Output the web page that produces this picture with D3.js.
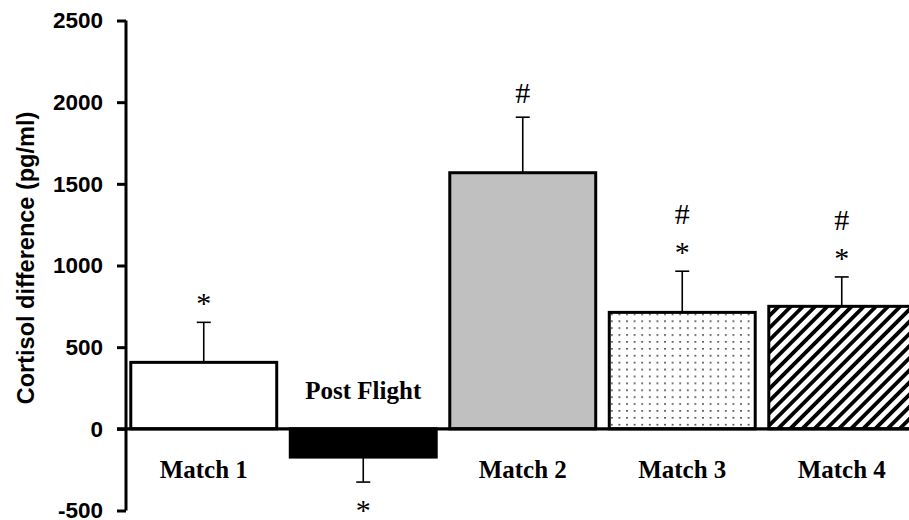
<!DOCTYPE html>
<html>
<head>
<meta charset="utf-8">
<script src="https://cdn.jsdelivr.net/npm/d3@7/dist/d3.min.js"></script>
<style>
  html, body { margin: 0; padding: 0; background: #fff; }
  svg { display: block; }
</style>
</head>
<body>
<svg id="chart" width="909" height="520"></svg>
<script>
// Cortisol difference per condition (pg/ml), mean and SEM
const categories = ["Match 1", "Post Flight", "Match 2", "Match 3", "Match 4"];
const means = [407, -173, 1568, 713, 750];
const errors = [245, 153, 340, 252, 180];
const marks = [["*"], ["*"], ["#"], ["#", "*"], ["#", "*"]];
const yTicks = [-500, 0, 500, 1000, 1500, 2000, 2500];
const yTitle = "Cortisol difference (pg/ml)";

const svg = d3.select("#chart");
const W = 909, H = 520;

const y = d3.scaleLinear().domain([-500, 2500]).range([510.5, 20.5]);
const x = d3.scaleBand().domain(categories)
  .range([124, 921.5]).paddingInner(0.085).paddingOuter(0.0425);

const defs = svg.append("defs");

// fine dot fill
const dots = defs.append("pattern").attr("id", "dots")
  .attr("patternUnits", "userSpaceOnUse").attr("width", 7.6).attr("height", 6.9);
dots.append("rect").attr("width", 7.6).attr("height", 6.9).attr("fill", "#fff");
dots.append("rect").attr("x", 3).attr("y", 3).attr("width", 1.6).attr("height", 1.6).attr("fill", "#333");

// diagonal stripe fill
const stripes = defs.append("pattern").attr("id", "stripes")
  .attr("patternUnits", "userSpaceOnUse").attr("width", 8.6).attr("height", 8.6)
  .attr("patternTransform", "rotate(45)");
stripes.append("rect").attr("width", 8.6).attr("height", 8.6).attr("fill", "#fff");
stripes.append("rect").attr("x", 0).attr("y", 0).attr("width", 3.8).attr("height", 8.6).attr("fill", "#000");

const fills = ["#ffffff", "#000000", "#c0c0c0", "url(#dots)", "url(#stripes)"];

const data = categories.map((c, i) => ({ c, v: means[i], e: errors[i], m: marks[i], f: fills[i] }));

// error bars (one-sided, away from zero)
const eb = svg.append("g").attr("stroke", "#000").attr("stroke-width", 1.6);
data.forEach(d => {
  const cx = x(d.c) + x.bandwidth() / 2;
  const tip = d.v >= 0 ? d.v + d.e : d.v - d.e;
  eb.append("line").attr("x1", cx).attr("x2", cx).attr("y1", y(d.v)).attr("y2", y(tip));
  eb.append("line").attr("x1", cx - 7).attr("x2", cx + 7).attr("y1", y(tip)).attr("y2", y(tip));
});

// bars
svg.append("g").selectAll("rect").data(data).join("rect")
  .attr("x", d => x(d.c))
  .attr("width", x.bandwidth())
  .attr("y", d => y(Math.max(0, d.v)))
  .attr("height", d => Math.abs(y(d.v) - y(0)))
  .attr("fill", d => d.f)
  .attr("stroke", "#000")
  .attr("stroke-width", 3);

// zero line
svg.append("line").attr("x1", 117).attr("x2", W).attr("y1", y(0)).attr("y2", y(0))
  .attr("stroke", "#000").attr("stroke-width", 3.2);

// y axis
const yAxis = svg.append("g").attr("transform", "translate(126,0)")
  .call(d3.axisLeft(y).tickValues(yTicks).tickFormat(d => String(d))
    .tickSize(9).tickPadding(14).tickSizeOuter(0));
yAxis.select(".domain").attr("stroke-width", 3).attr("d", `M0,${y(-500)}V${y(2500)}`);
yAxis.selectAll(".tick line").attr("stroke-width", 3);
yAxis.selectAll(".tick text")
  .attr("font-family", "Liberation Sans, Arial, sans-serif")
  .attr("font-weight", "bold").attr("font-size", 22.5).attr("fill", "#000");

// y title
svg.append("text")
  .attr("transform", "translate(34,258) rotate(-90)")
  .attr("text-anchor", "middle")
  .attr("font-family", "Liberation Sans, Arial, sans-serif")
  .attr("font-weight", "bold").attr("font-size", 23.5)
  .text(yTitle);

// category labels: below zero for positive bars, above for negative
svg.append("g").selectAll("text").data(data).join("text")
  .attr("x", d => x(d.c) + x.bandwidth() / 2)
  .attr("y", d => d.v >= 0 ? y(0) + 49 : y(0) - 30)
  .attr("text-anchor", "middle")
  .attr("font-family", "Liberation Serif, Times New Roman, serif")
  .attr("font-weight", "bold").attr("font-size", 25)
  .text(d => d.c);

// significance marks beyond the error bar tips
const sig = svg.append("g")
  .attr("font-family", "Liberation Serif, Times New Roman, serif")
  .attr("font-size", 30).attr("text-anchor", "middle");
data.forEach(d => {
  const cx = x(d.c) + x.bandwidth() / 2;
  const tip = d.v >= 0 ? d.v + d.e : d.v - d.e;
  const n = d.m.length;
  d.m.forEach((s, k) => {
    let yy;
    if (d.v >= 0) {
      // lowest mark sits just above the tip, the next one stacked above it
      const lvl = n - 1 - k;
      yy = y(tip) - (s === "*" ? 9 : 14) - lvl * 33;
    } else {
      yy = y(tip) + 38;
    }
    sig.append("text").attr("x", cx).attr("y", yy).text(s);
  });
});
</script>
</body>
</html>
